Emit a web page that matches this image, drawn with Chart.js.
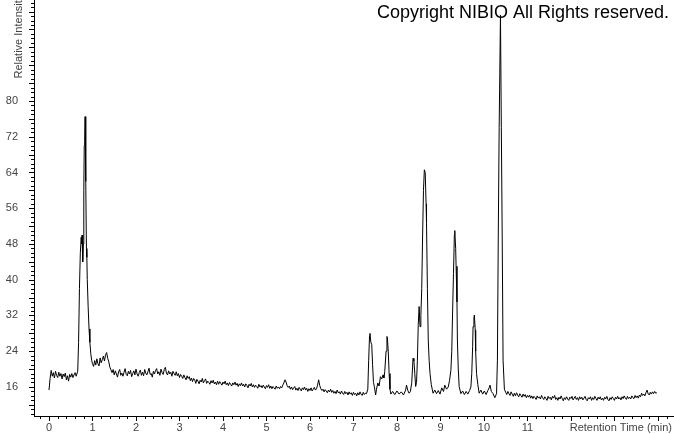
<!DOCTYPE html>
<html>
<head>
<meta charset="utf-8">
<script src="https://cdn.jsdelivr.net/npm/chart.js@4.4.1/dist/chart.umd.min.js"></script>
<style>
  html, body { margin: 0; padding: 0; background: #fff; }
  #wrap { width: 674px; height: 434px; }
</style>
</head>
<body>
<div id="wrap"><canvas id="chromChart" width="674" height="434"></canvas></div>
<script>
(function () {
    'use strict';

    // -------- data --------
    // solvent front + first big peak
    const timeEarly = [0, 0.025, 0.050, 0.075, 0.100, 0.125, 0.150, 0.175,
        0.200, 0.225, 0.250, 0.275, 0.300, 0.325, 0.350, 0.375,
        0.400, 0.425, 0.450, 0.475, 0.500, 0.525, 0.550, 0.575,
        0.600, 0.625,
        0.66, 0.68, 0.70, 0.72, 0.74,
        0.75, 0.76, 0.77, 0.78, 0.79, 0.80, 0.81, 0.82, 0.83, 0.84, 0.85, 0.86, 0.87, 0.88,
        0.90, 0.92, 0.94, 0.96, 0.98, 1.00,
        1.025, 1.050, 1.075, 1.100, 1.125, 1.150, 1.175, 1.200, 1.225, 1.250,
        1.275, 1.300, 1.325, 1.350, 1.375, 1.400, 1.425, 1.450, 1.475];
    const intEarly = [15.3, 17.9, 19.7, 18.4, 19.2, 18.0, 19.5, 18.6,
        18.1, 19.3, 18.4, 19.0, 17.8, 18.9, 18.3, 19.1,
        17.6, 18.5, 17.3, 18.8, 18.2, 19.0, 18.1, 18.7,
        19.2, 18.4,
        19.5, 26, 38, 46, 49.5,
        48, 50, 46, 44, 48, 60, 70, 71, 76.5, 70, 62, 47, 45, 40,
        34, 29, 26, 23.5, 22, 21.2,
        20.6, 21.9, 20.9, 22.3, 21.2, 20.7, 22.5, 21.4, 22.1, 22.9,
        21.8, 23.2, 23.7, 22.4, 21.6, 20.4, 19.8, 19.2, 19.9];

    // slowly falling baseline 1.5 - 7.3 min
    const timeMid = [1.500, 1.525, 1.550, 1.575, 1.600, 1.625, 1.650, 1.675,
        1.700, 1.725, 1.750, 1.775, 1.800, 1.825, 1.850, 1.875,
        1.900, 1.925, 1.950, 1.975, 2.000, 2.025, 2.050, 2.075,
        2.100, 2.125, 2.150, 2.175, 2.200, 2.225, 2.250, 2.275,
        2.300, 2.325, 2.350, 2.375, 2.400, 2.425, 2.450, 2.475,
        2.500, 2.525, 2.550, 2.575, 2.600, 2.625, 2.650, 2.675,
        2.700, 2.725, 2.750, 2.775, 2.800, 2.825, 2.850, 2.875,
        2.900, 2.925, 2.950, 2.975, 3.000, 3.025, 3.050, 3.075,
        3.100, 3.125, 3.150, 3.175, 3.200, 3.225, 3.250, 3.275,
        3.300, 3.325, 3.350, 3.375, 3.400, 3.425, 3.450, 3.475,
        3.500, 3.525, 3.550, 3.575, 3.600, 3.625, 3.650, 3.675,
        3.700, 3.725, 3.750, 3.775, 3.800, 3.825, 3.850, 3.875,
        3.900, 3.925, 3.950, 3.975, 4.000, 4.025, 4.050, 4.075,
        4.100, 4.125, 4.150, 4.175, 4.200, 4.225, 4.250, 4.275,
        4.300, 4.325, 4.350, 4.375, 4.400, 4.425, 4.450, 4.475,
        4.500, 4.525, 4.550, 4.575, 4.600, 4.625, 4.650, 4.675,
        4.700, 4.725, 4.750, 4.775, 4.800, 4.825, 4.850, 4.875,
        4.900, 4.925, 4.950, 4.975, 5.000, 5.025, 5.050, 5.075,
        5.100, 5.125, 5.150, 5.175, 5.200, 5.225, 5.250, 5.275,
        5.300, 5.325, 5.350, 5.375, 5.400, 5.425, 5.450, 5.475,
        5.500, 5.525, 5.550, 5.575, 5.600, 5.625, 5.650, 5.675,
        5.700, 5.725, 5.750, 5.775, 5.800, 5.825, 5.850, 5.875,
        5.900, 5.925, 5.950, 5.975, 6.000, 6.025, 6.050, 6.075,
        6.100, 6.125, 6.150, 6.175, 6.200, 6.225, 6.250, 6.275,
        6.300, 6.325, 6.350, 6.375, 6.400, 6.425, 6.450, 6.475,
        6.500, 6.525, 6.550, 6.575, 6.600, 6.625, 6.650, 6.675,
        6.700, 6.725, 6.750, 6.775, 6.800, 6.825, 6.850, 6.875,
        6.900, 6.925, 6.950, 6.975, 7.000, 7.025, 7.050, 7.075,
        7.100, 7.125, 7.150, 7.175, 7.200, 7.225, 7.250, 7.275,
        7.300];
    const intMid = [18.7, 19.6, 18.9, 18.2, 19.4, 19.9, 18.6, 19.1,
        18.4, 19.3, 20.1, 18.8, 18.5, 19.5, 18.9, 19.7,
        18.3, 19.0, 19.6, 18.7, 20.0, 18.9, 18.4, 19.2,
        19.8, 18.6, 19.3, 18.5, 19.9, 19.1, 18.7, 19.4,
        20.2, 18.8, 19.0, 18.2, 19.5, 18.9, 19.7, 20.1,
        18.9, 19.4, 18.6, 20.0, 19.2, 18.8, 19.9, 20.4,
        19.1, 18.7, 19.6, 18.9, 19.3, 18.4, 19.5, 19.0,
        18.6, 19.4, 18.5, 19.0, 18.1, 18.8, 18.4, 17.9,
        18.7, 18.1, 17.6, 18.5, 17.9, 18.3, 17.4, 18.0,
        17.2, 17.9, 17.6, 16.8, 17.7, 17.3, 16.7, 17.5,
        17.1, 17.9, 16.9, 17.4, 17.8, 16.8, 17.3, 17.0,
        16.6, 17.4, 16.9, 17.5, 16.7, 17.1, 16.5, 17.3,
        16.6, 17.2, 16.8, 16.4, 17.1, 16.7, 17.3, 16.5,
        16.9, 16.3, 17.0, 16.6, 16.2, 16.9, 16.5, 17.1,
        16.4, 16.8, 16.1, 16.7, 16.3, 16.9, 16.2, 16.6,
        16.0, 16.7, 16.3, 15.8, 16.6, 16.2, 16.8, 16.0,
        16.5, 15.9, 16.4, 16.1, 15.7, 16.6, 16.0, 16.3,
        15.8, 16.4, 16.0, 15.6, 16.3, 15.9, 16.5, 15.7,
        16.2, 15.6, 16.1, 15.8, 15.5, 16.2, 15.7, 16.0,
        15.6, 16.1, 15.8, 16.4, 16.9, 17.6, 17.1, 16.3,
        15.9, 16.2, 15.5, 16.0, 15.4, 15.8, 16.1, 15.3,
        15.7, 15.2, 15.9, 15.5, 15.1, 15.8, 15.4, 16.0,
        15.3, 15.7, 15.0, 15.6, 15.2, 15.8, 15.1, 15.5,
        15.9, 15.3, 15.6, 16.4, 17.6, 16.3, 15.6, 15.2,
        15.5, 14.9, 15.4, 15.1, 14.7, 15.3, 14.9, 15.5,
        14.8, 15.2, 14.6, 15.0, 14.5, 15.3, 14.7, 14.9,
        14.4, 15.1, 14.6, 14.3, 15.0, 14.5, 14.8, 14.2,
        14.9, 14.4, 14.7, 14.1, 14.8, 14.3, 14.6, 14.0,
        14.7, 14.2, 14.9, 14.4, 14.1, 14.8, 14.3, 14.6,
        14.5];

    // cluster of analyte peaks 7.3 - 10.5 min
    const timePeaks = [7.33, 7.35, 7.37, 7.38, 7.40, 7.42, 7.44, 7.46, 7.48, 7.51,
        7.53, 7.56, 7.59, 7.62, 7.65, 7.68, 7.70, 7.72, 7.75, 7.77,
        7.78, 7.80, 7.82, 7.84, 7.86, 7.90, 7.95, 8.00, 8.05, 8.10,
        8.15, 8.20, 8.22, 8.25, 8.28, 8.31, 8.34, 8.37, 8.39, 8.41,
        8.43, 8.45, 8.47, 8.49, 8.51, 8.53, 8.55, 8.57, 8.59, 8.61,
        8.63, 8.65, 8.67, 8.68, 8.70, 8.72, 8.74, 8.76, 8.79, 8.83,
        8.87, 8.91, 8.95, 8.99, 9.03, 9.07, 9.10, 9.14, 9.18, 9.21,
        9.24, 9.26, 9.28, 9.30, 9.32, 9.33, 9.35, 9.36, 9.38, 9.39,
        9.41, 9.43, 9.47, 9.51, 9.55, 9.59, 9.63, 9.67, 9.70, 9.72,
        9.74, 9.75, 9.77, 9.78, 9.80, 9.81, 9.83, 9.86, 9.89, 9.93,
        9.97, 10.01, 10.05, 10.09, 10.12, 10.14, 10.17, 10.21, 10.25, 10.29,
        10.31, 10.33, 10.35, 10.38, 10.40, 10.42, 10.44, 10.47];
    const intPeaks = [15.5, 22, 27.5, 28.0, 26.0, 25.5, 21, 17, 16.1, 14.2,
        15.5, 16.9, 16.2, 18.3, 17.8, 18.7, 18.0, 19.5, 24, 27.3,
        27.0, 24, 19, 15.5, 14.4, 15.0, 14.3, 15.1, 14.4, 14.9,
        14.2, 15.3, 16.4, 15.2, 14.6, 15.0, 17.0, 22.4, 21.8, 19.0,
        16.1, 17.0, 22.0, 30.0, 34.0, 29.5, 32, 38, 50, 60,
        64.6, 64.0, 57, 52.6, 38, 26.5, 22, 19.0, 16.5, 14.6,
        15.3, 14.5, 15.2, 14.4, 15.8, 15.0, 16.4, 15.5, 16.0, 17.5,
        19.7, 24, 33, 41.4, 50, 51.0, 47, 43.0, 35, 26.5,
        20, 16.1, 14.5, 15.1, 14.3, 15.0, 14.4, 15.2, 16.0, 19.0,
        25, 29.5, 31.5, 32.1, 28.7, 24, 19.0, 16.5, 14.6, 15.3,
        14.4, 15.1, 14.3, 15.2, 15.8, 16.4, 15.0, 14.5, 13.6, 14.5,
        22, 50, 74, 99.2, 74, 50, 22, 15.5];

    // flat tail 10.5 - 14 min
    const timeLate = [10.500, 10.525, 10.550, 10.575, 10.600, 10.625, 10.650, 10.675,
        10.700, 10.725, 10.750, 10.775, 10.800, 10.825, 10.850, 10.875,
        10.900, 10.925, 10.950, 10.975, 11.000, 11.025, 11.050, 11.075,
        11.100, 11.125, 11.150, 11.175, 11.200, 11.225, 11.250, 11.275,
        11.300, 11.325, 11.350, 11.375, 11.400, 11.425, 11.450, 11.475,
        11.500, 11.525, 11.550, 11.575, 11.600, 11.625, 11.650, 11.675,
        11.700, 11.725, 11.750, 11.775, 11.800, 11.825, 11.850, 11.875,
        11.900, 11.925, 11.950, 11.975, 12.000, 12.025, 12.050, 12.075,
        12.100, 12.125, 12.150, 12.175, 12.200, 12.225, 12.250, 12.275,
        12.300, 12.325, 12.350, 12.375, 12.400, 12.425, 12.450, 12.475,
        12.500, 12.525, 12.550, 12.575, 12.600, 12.625, 12.650, 12.675,
        12.700, 12.725, 12.750, 12.775, 12.800, 12.825, 12.850, 12.875,
        12.900, 12.925, 12.950, 12.975, 13.000, 13.025, 13.050, 13.075,
        13.100, 13.125, 13.150, 13.175, 13.200, 13.225, 13.250, 13.275,
        13.300, 13.325, 13.350, 13.375, 13.400, 13.425, 13.450, 13.475,
        13.500, 13.525, 13.550, 13.575, 13.600, 13.625, 13.650, 13.675,
        13.700, 13.725, 13.750, 13.775, 13.800, 13.825, 13.850, 13.875,
        13.900, 13.925, 13.950, 13.975];
    const intLate = [14.8, 14.3, 15.0, 14.5, 14.1, 14.9, 14.4, 13.9,
        14.6, 14.0, 14.7, 14.2, 13.8, 14.5, 14.1, 13.7,
        14.4, 13.9, 14.3, 13.6, 14.1, 13.7, 14.2, 13.5,
        14.0, 13.4, 13.9, 13.6, 13.2, 14.0, 13.5, 13.8,
        13.3, 14.1, 13.6, 13.2, 13.8, 13.4, 13.0, 13.9,
        13.4, 13.7, 13.1, 13.9, 13.5, 14.1, 13.2, 13.6,
        13.0, 13.7, 13.3, 14.0, 13.4, 12.9, 13.6, 13.2,
        13.8, 13.3, 13.0, 13.7, 13.4, 13.9, 13.1, 13.5,
        13.9, 13.2, 13.6, 13.0, 13.8, 13.3, 13.7, 13.1,
        13.5, 13.9, 13.2, 12.9, 13.6, 13.3, 13.8, 13.0,
        13.6, 13.2, 13.9, 13.4, 13.0, 13.7, 13.3, 13.8,
        13.1, 13.5, 13.0, 13.7, 13.3, 13.9, 13.2, 12.9,
        13.6, 13.2, 13.8, 13.4, 13.0, 13.7, 13.3, 13.9,
        13.3, 13.6, 13.1, 13.8, 13.4, 14.0, 13.5, 13.2,
        13.9, 13.4, 13.7, 13.3, 14.0, 13.6, 13.4, 14.1,
        13.6, 14.0, 13.5, 14.2, 13.8, 14.6, 14.1, 14.4,
        14.0, 14.7, 15.3, 14.5, 14.2, 14.8, 14.4, 14.9,
        14.5, 15.0, 14.6, 14.7];

    // axis labels
    const xLabelTicks = [0, 1, 2, 3, 4, 5, 6, 7, 8, 9, 10, 11];
    const yLabelTicks = [16, 24, 32, 40, 48, 56, 64, 72, 80];

    const X_MIN = -0.345, X_MAX = 14.37;
    const Y_MIN = 9.5, Y_MAX = 102.6;
    const FONT = '"Liberation Sans", Arial, sans-serif';

    const rt = timeEarly.concat(timeMid, timePeaks, timeLate);
    const inten = intEarly.concat(intMid, intPeaks, intLate);
    const points = rt.map((t, i) => ({ x: t, y: inten[i] }));

    // minor/major tick marks + free texts
    const chromDecor = {
        id: 'chromDecor',
        beforeDatasetsDraw(chart) {
            const { ctx, chartArea: a, scales: { x, y } } = chart;
            ctx.save();
            ctx.strokeStyle = '#000';
            ctx.lineWidth = 1;
            ctx.beginPath();
            for (let v = Math.ceil(y.min); v <= y.max; v++) {
                const py = Math.round(y.getPixelForValue(v)) + 0.5;
                const len = v % 4 === 0 ? 5 : 3;
                ctx.moveTo(a.left - len, py);
                ctx.lineTo(a.left, py);
            }
            for (let k = Math.ceil(x.min / 0.2); k * 0.2 <= x.max; k++) {
                const px = Math.round(x.getPixelForValue(k * 0.2)) + 0.5;
                const len = k % 5 === 0 ? 5 : 3;
                ctx.moveTo(px, a.bottom);
                ctx.lineTo(px, a.bottom + len);
            }
            ctx.stroke();

            ctx.fillStyle = '#000';
            ctx.font = '18px ' + FONT;
            ctx.textAlign = 'left';
            ctx.textBaseline = 'alphabetic';
            ctx.fillText('Copyright NIBIO All Rights reserved.', 377, 17.5);

            ctx.fillStyle = '#444';
            ctx.font = '11px ' + FONT;
            ctx.textAlign = 'right';
            ctx.fillText('Retention Time (min)', 672, 431);

            ctx.translate(22, 78.5);
            ctx.rotate(-Math.PI / 2);
            ctx.textAlign = 'left';
            ctx.fillText('Relative Intensity', 0, 0);
            ctx.restore();
        }
    };

    new Chart(document.getElementById('chromChart').getContext('2d'), {
        type: 'line',
        data: {
            datasets: [{
                data: points,
                borderColor: '#000',
                borderWidth: 1,
                pointRadius: 0,
                tension: 0,
                fill: false
            }]
        },
        options: {
            responsive: false,
            animation: false,
            events: [],
            layout: { padding: 0, autoPadding: false },
            plugins: { legend: { display: false }, tooltip: { enabled: false } },
            scales: {
                x: {
                    type: 'linear',
                    min: X_MIN,
                    max: X_MAX,
                    afterFit: s => { s.height = 18; s.paddingLeft = 0; s.paddingRight = 0; },
                    afterBuildTicks: s => { s.ticks = xLabelTicks.map(v => ({ value: v })); },
                    grid: { display: false, drawTicks: false },
                    border: { display: true, color: '#000', width: 1 },
                    ticks: { padding: 5, color: '#444', font: { family: FONT, size: 11 }, maxRotation: 0, autoSkip: false }
                },
                y: {
                    type: 'linear',
                    min: Y_MIN,
                    max: Y_MAX,
                    afterFit: s => { s.width = 34; s.paddingTop = 0; s.paddingBottom = 0; },
                    afterBuildTicks: s => { s.ticks = yLabelTicks.map(v => ({ value: v })); },
                    grid: { display: false, drawTicks: false },
                    border: { display: true, color: '#000', width: 1 },
                    ticks: { padding: 16, color: '#444', font: { family: FONT, size: 11 }, autoSkip: false }
                }
            }
        },
        plugins: [chromDecor]
    });
})();
</script>
</body>
</html>
